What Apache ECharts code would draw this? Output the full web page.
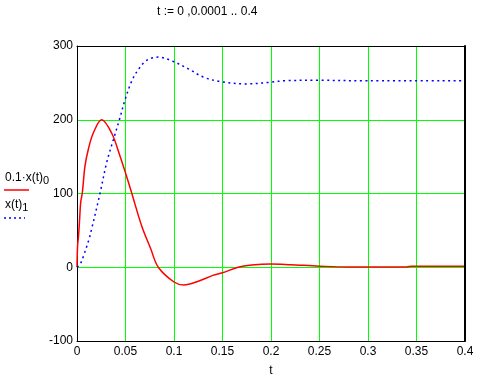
<!DOCTYPE html>
<html>
<head>
<meta charset="utf-8">
<script src="https://cdn.jsdelivr.net/npm/echarts@6/dist/echarts.min.js"></script>
<style>
  html, body { margin: 0; padding: 0; background: #fff; }
  #chart { width: 482px; height: 382px; }
</style>
</head>
<body>
<div id="chart"></div>
<script>
// time range and ticks
var xTicks = [0, 0.4, 0.05];
var yTicks = [-100, 300, 100];

// 0.1*x(t)0  (red, solid)
var redT = [0, 0.0006, 0.0016, 0.0027, 0.0038, 0.0055, 0.0082, 0.0117, 0.0168, 0.0254, 0.0357, 0.0443, 0.0495,
  0.0563, 0.0667, 0.076, 0.0838, 0.1, 0.11, 0.125, 0.14, 0.15, 0.166, 0.18, 0.2, 0.22, 0.25, 0.28, 0.34, 0.345, 0.4];
var redV = [0, 29, 43, 65, 88, 101, 137, 160, 182, 200, 182, 151, 130,
  101, 56, 25, 0, -20, -24, -19, -11, -7.5, 0, 3, 4.5, 3.5, 1.5, 0.3, 0.3, 1.5, 1.5];

// x(t)1  (blue, dotted)
var blueT = [0, 0.0034, 0.0068, 0.0124, 0.0151, 0.0237, 0.0306, 0.0375, 0.0437, 0.0495, 0.0563, 0.0632, 0.0718,
  0.0838, 0.0993, 0.1148, 0.13, 0.147, 0.175, 0.199, 0.215, 0.25, 0.3, 0.4];
var blueV = [0, 4.5, 15.7, 38, 52, 100, 142, 173, 200, 227, 252, 268, 280.5,
  285, 279, 269, 258, 252, 248.6, 250.8, 253, 253.5, 252.8, 252.8];

function pairs(t, v) {
  return t.map(function (x, i) { return [x, v[i]]; });
}

var myChart = echarts.init(document.getElementById('chart'));
var font = 'Liberation Sans, Arial, sans-serif';
var frame = { show: true, onZero: false, lineStyle: { color: '#000', width: 1 } };
var option = {
  animation: false,
  backgroundColor: '#fff',
  title: {
    text: 't := 0 ,0.0001 .. 0.4',
    left: 152,
    top: 1,
    textStyle: { fontFamily: font, fontSize: 12, fontWeight: 'normal', color: '#000' }
  },
  grid: { left: 77, top: 46, width: 388, height: 297 },
  xAxis: [{
    type: 'value',
    min: xTicks[0], max: xTicks[1], interval: xTicks[2],
    name: 't', nameLocation: 'middle', nameGap: 24,
    nameTextStyle: { fontFamily: font, fontSize: 12, color: '#000' },
    axisLine: frame,
    axisTick: { show: false },
    axisLabel: { color: '#000', fontFamily: font, fontSize: 12, margin: 5 },
    splitLine: { show: true, lineStyle: { color: '#00ff00', width: 1 } }
  }, {
    // top edge of the frame
    type: 'value', position: 'top',
    min: xTicks[0], max: xTicks[1], interval: xTicks[2],
    axisLine: frame, axisTick: { show: false }, axisLabel: { show: false },
    splitLine: { show: false }, z: 5
  }],
  yAxis: [{
    type: 'value',
    min: yTicks[0], max: yTicks[1], interval: yTicks[2],
    axisLine: frame,
    axisTick: { show: false },
    axisLabel: { color: '#000', fontFamily: font, fontSize: 12, margin: 4 },
    splitLine: { show: true, lineStyle: { color: '#00ff00', width: 1 } }
  }, {
    // right edge of the frame
    type: 'value', position: 'right',
    min: yTicks[0], max: yTicks[1], interval: yTicks[2],
    axisLine: { show: true, onZero: false, lineStyle: { color: '#000', width: 2 } },
    axisTick: { show: false }, axisLabel: { show: false },
    splitLine: { show: false }, z: 5
  }],
  graphic: [
    {
      type: 'text', left: 5, top: 172,
      style: {
        text: '0.1·x(t){s|0}',
        fontFamily: font, fontSize: 12, fill: '#000',
        rich: { s: { fontFamily: font, fontSize: 11, padding: [6, 0, 0, 0] } }
      }
    },
    { type: 'line', shape: { x1: 4, y1: 190, x2: 29, y2: 190 }, style: { stroke: '#ff0000', lineWidth: 1.5 } },
    {
      type: 'text', left: 5, top: 199,
      style: {
        text: 'x(t){s|1}',
        fontFamily: font, fontSize: 12, fill: '#000',
        rich: { s: { fontFamily: font, fontSize: 11, padding: [6, 0, 0, 0] } }
      }
    },
    { type: 'line', shape: { x1: 4, y1: 218, x2: 25, y2: 218 }, style: { stroke: '#0000ff', lineWidth: 1.5, lineDash: [2, 3] } }
  ],
  series: [
    {
      name: '0.1·x(t)0',
      type: 'line',
      data: pairs(redT, redV),
      showSymbol: false,
      smooth: 0.35,
      lineStyle: { color: '#ff0000', width: 1.5 },
      z: 3
    },
    {
      name: 'x(t)1',
      type: 'line',
      data: pairs(blueT, blueV),
      showSymbol: false,
      smooth: 0.35,
      lineStyle: { color: '#0000ff', width: 1.5, type: [2, 3.5] },
      z: 3
    }
  ]
};
myChart.setOption(option);
</script>
</body>
</html>
